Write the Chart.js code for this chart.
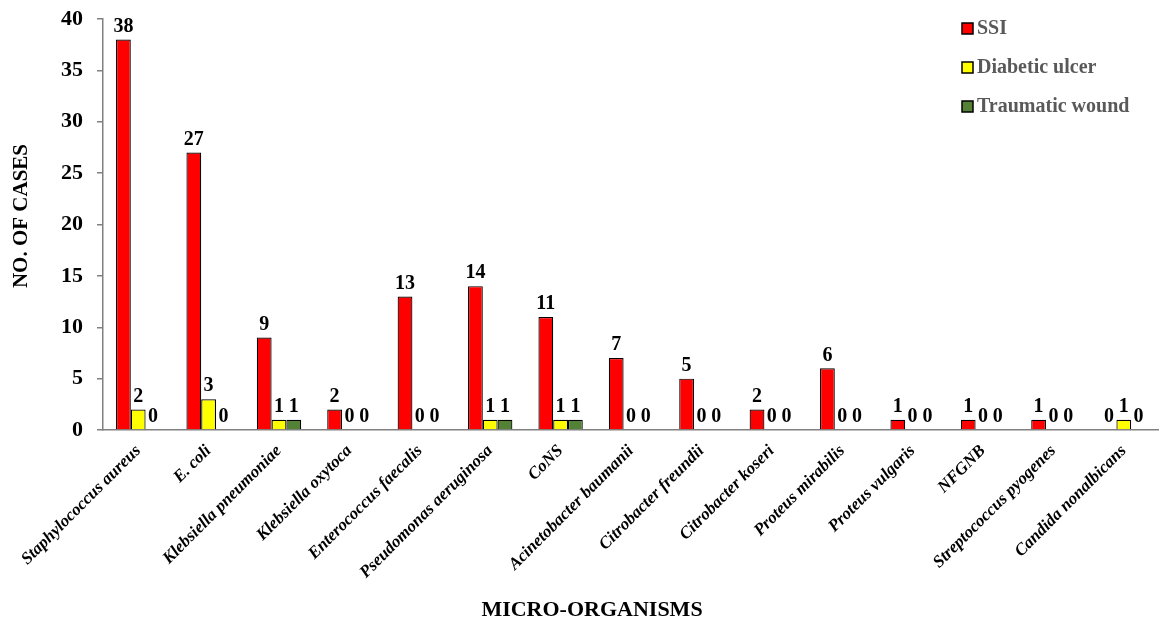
<!DOCTYPE html>
<html>
<head>
<meta charset="utf-8">
<script src="https://cdn.jsdelivr.net/npm/chart.js@4/dist/chart.umd.min.js"></script>
<style>
  body { margin: 0; background: #fff; }
  #wrap { width: 1159px; height: 625px; position: relative; }
</style>
</head>
<body>
<div id="wrap"><canvas id="chart"></canvas></div>
<script>
const organisms = ['Staphylococcus aureus', 'E. coli', 'Klebsiella pneumoniae', 'Klebsiella oxytoca',
  'Enterococcus faecalis', 'Pseudomonas aeruginosa', 'CoNS', 'Acinetobacter baumanii',
  'Citrobacter freundii', 'Citrobacter koseri', 'Proteus mirabilis', 'Proteus vulgaris',
  'NFGNB', 'Streptococcus pyogenes', 'Candida nonalbicans'];
const ssi       = [38, 27, 9, 2, 13, 14, 11, 7, 5, 2, 6, 1, 1, 1, 0];
const diabetic  = [2, 3, 1, 0, 0, 1, 1, 0, 0, 0, 0, 0, 0, 0, 1];
const traumatic = [0, 0, 1, 0, 0, 1, 1, 0, 0, 0, 0, 0, 0, 0, 0];
const yTicks = [0, 5, 10, 15, 20, 25, 30, 35, 40];

const serif = '"Liberation Serif", "Times New Roman", serif';

// value labels above every bar, zeros too
const barLabels = {
  id: 'barLabels',
  afterDatasetsDraw(chart) {
    const ctx = chart.ctx;
    ctx.save();
    ctx.font = 'bold 20px ' + serif;
    ctx.fillStyle = '#000';
    ctx.textAlign = 'center';
    ctx.textBaseline = 'bottom';
    chart.data.datasets.forEach((ds, i) => {
      chart.getDatasetMeta(i).data.forEach((bar, j) => {
        ctx.fillText(ds.data[j], bar.x, bar.y - 3);
      });
    });
    ctx.restore();
  }
};

// legend top right + axis titles
const extras = {
  id: 'extras',
  afterDraw(chart) {
    const ctx = chart.ctx;
    ctx.save();
    ctx.font = 'bold 20px ' + serif;
    ctx.textBaseline = 'middle';
    chart.data.datasets.forEach((ds, i) => {
      const y = 28 + i * 39;
      ctx.fillStyle = ds.backgroundColor;
      ctx.fillRect(962, y - 5, 11, 11);
      ctx.strokeStyle = '#000';
      ctx.lineWidth = 1.5;
      ctx.strokeRect(962, y - 5, 11, 11);
      ctx.fillStyle = '#595959';
      ctx.textAlign = 'left';
      ctx.fillText(ds.label, 977, y + 1);
    });
    ctx.fillStyle = '#000';
    ctx.font = 'bold 22px ' + serif;
    ctx.textAlign = 'center';
    ctx.fillText('MICRO-ORGANISMS', 592, 610);
    ctx.font = 'bold 21px ' + serif;
    ctx.translate(22, 216);
    ctx.rotate(-Math.PI / 2);
    ctx.fillText('NO. OF CASES', 0, 0);
    ctx.restore();
  }
};

new Chart(document.getElementById('chart'), {
  type: 'bar',
  data: {
    labels: organisms,
    datasets: [
      { label: 'SSI', data: ssi, backgroundColor: '#ff0000' },
      { label: 'Diabetic ulcer', data: diabetic, backgroundColor: '#ffff00' },
      { label: 'Traumatic wound', data: traumatic, backgroundColor: '#538135' }
    ].map(d => Object.assign(d, {
      borderColor: '#000', borderWidth: 1.2, borderSkipped: 'bottom',
      categoryPercentage: 0.63, barPercentage: 1.0
    }))
  },
  options: {
    responsive: true,
    maintainAspectRatio: false,
    animation: false,
    layout: { padding: 0 },
    plugins: { legend: { display: false }, tooltip: { enabled: false } },
    scales: {
      x: {
        grid: { display: false },
        border: { color: '#808080', width: 1.5 },
        ticks: {
          color: '#000', minRotation: 45, maxRotation: 45, autoSkip: false,
          font: { family: serif, size: 17, style: 'italic', weight: 'bold' }
        },
        afterFit(scale) { scale.height = 195; }
      },
      y: {
        min: 0, max: 40,
        afterBuildTicks(scale) { scale.ticks = yTicks.map(v => ({ value: v })); },
        grid: { drawOnChartArea: false, drawTicks: true, tickLength: 6, color: '#808080', lineWidth: 1.5 },
        border: { color: '#808080', width: 1.5 },
        ticks: {
          color: '#000', padding: 14,
          font: { family: serif, size: 22, weight: 'bold' }
        },
        afterFit(scale) {
          scale.width = 103;
          scale.paddingTop = 19;
        }
      }
    }
  },
  plugins: [barLabels, extras]
});
</script>
</body>
</html>
